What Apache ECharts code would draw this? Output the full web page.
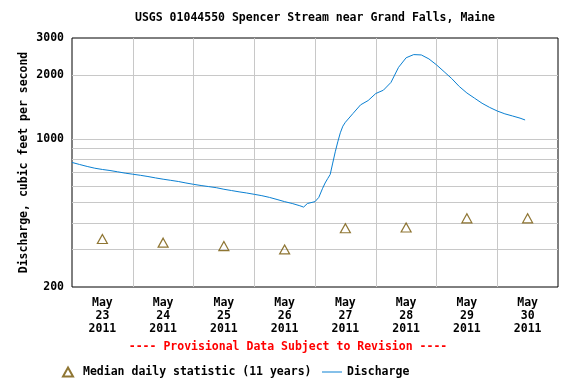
<!DOCTYPE html>
<html><head><meta charset="utf-8">
<script src="https://cdn.jsdelivr.net/npm/echarts@6/dist/echarts.min.js"></script>
<style>html,body{margin:0;padding:0;background:#fff}#c{width:576px;height:384px}</style>
</head><body><div id="c"></div>
<script>
const titleText = 'USGS 01044550 Spencer Stream near Grand Falls, Maine';
const yAxisTitle = 'Discharge, cubic feet per second';
const provisionalText = '---- Provisional Data Subject to Revision ----';
const medianName = 'Median daily statistic (11 years)';
const dischargeName = 'Discharge';

const dischargeTimes = [
 '2011-05-23 00:00','2011-05-23 03:00','2011-05-23 06:00','2011-05-23 09:00','2011-05-23 12:00','2011-05-23 15:00','2011-05-23 18:00','2011-05-23 21:00',
 '2011-05-24 00:00','2011-05-24 03:00','2011-05-24 06:00','2011-05-24 09:00','2011-05-24 12:00','2011-05-24 15:00','2011-05-24 18:00','2011-05-24 21:00',
 '2011-05-25 00:00','2011-05-25 03:00','2011-05-25 06:00','2011-05-25 09:00','2011-05-25 12:00','2011-05-25 15:00','2011-05-25 18:00','2011-05-25 21:00',
 '2011-05-26 00:00','2011-05-26 03:00','2011-05-26 06:00','2011-05-26 09:00','2011-05-26 12:00','2011-05-26 15:00','2011-05-26 18:00','2011-05-26 19:30','2011-05-26 21:00',
 '2011-05-27 00:00','2011-05-27 01:30','2011-05-27 03:00','2011-05-27 04:00','2011-05-27 05:00','2011-05-27 06:00','2011-05-27 07:00','2011-05-27 08:00','2011-05-27 09:00','2011-05-27 10:00','2011-05-27 11:00','2011-05-27 12:00','2011-05-27 15:00','2011-05-27 18:00','2011-05-27 21:00',
 '2011-05-28 00:00','2011-05-28 03:00','2011-05-28 06:00','2011-05-28 09:00','2011-05-28 12:00','2011-05-28 15:00','2011-05-28 18:00','2011-05-28 21:00',
 '2011-05-29 00:00','2011-05-29 03:00','2011-05-29 06:00','2011-05-29 09:00','2011-05-29 12:00','2011-05-29 15:00','2011-05-29 18:00','2011-05-29 21:00',
 '2011-05-30 00:00','2011-05-30 03:00','2011-05-30 06:00','2011-05-30 09:00','2011-05-30 11:00'
];
const dischargeValues = [
 775,758,742,728,718,710,700,690,
 682,674,665,655,646,638,630,620,
 611,603,596,589,579,571,563,556,
 548,540,530,518,506,496,484,477,496,
 506,530,585,620,650,680,770,870,970,1070,1150,1200,1320,1450,1520,
 1640,1700,1850,2180,2420,2505,2495,2390,
 2240,2080,1930,1770,1650,1560,1475,1410,
 1356,1315,1285,1255,1230
];
const medianTimes = ['2011-05-23 12:00','2011-05-24 12:00','2011-05-25 12:00','2011-05-26 12:00','2011-05-27 12:00','2011-05-28 12:00','2011-05-29 12:00','2011-05-30 12:00'];
const medianValues = [337,324,312,301,379,382,422,422];

const xStart = '2011-05-23 00:00';
const xEnd = '2011-05-31 00:00';
const labelTimes = medianTimes;
const dayLabels = ['May\n23\n2011','May\n24\n2011','May\n25\n2011','May\n26\n2011','May\n27\n2011','May\n28\n2011','May\n29\n2011','May\n30\n2011'];
const xGridTimes = ['2011-05-24 00:00','2011-05-25 00:00','2011-05-26 00:00','2011-05-27 00:00','2011-05-28 00:00','2011-05-29 00:00','2011-05-30 00:00'];
const yMin = 200, yMax = 3000;
const yGridValues = [300,400,500,600,700,800,900,1000,2000];
const yLabelValues = [200,1000,2000,3000];

function t(s){
  const [d, tm] = s.split(' ');
  const [Y, M, D] = d.split('-').map(Number);
  const [h, m] = tm.split(':').map(Number);
  return Date.UTC(Y, M - 1, D, h, m);
}
const FONT = "'DejaVu Sans Mono', monospace";
const labelTs = labelTimes.map(t);
const BLUE = '#0a80d2';
const BROWN = '#735400';
const legendText = {fontFamily: FONT, fontWeight: 'bold', fontSize: 11.5, color: '#000'};

const chart = echarts.init(document.getElementById('c'), null, {renderer: 'canvas'});
chart.setOption({
  animation: false,
  backgroundColor: '#fff',
  title: {
    text: titleText, left: 315, textAlign: 'center', top: 12, padding: 0,
    textStyle: {fontFamily: FONT, fontWeight: 'bold', fontSize: 11.5, color: '#000'}
  },
  grid: {left: 72, right: 18, top: 38, bottom: 97, show: true, borderColor: '#000', borderWidth: 1, backgroundColor: '#fff'},
  xAxis: {
    type: 'value', min: t(xStart), max: t(xEnd),
    axisLine: {show: false},
    axisTick: {show: false, customValues: xGridTimes.map(t)},
    splitLine: {show: true, lineStyle: {color: '#c8c8c8', width: 1}},
    axisLabel: {
      customValues: labelTs, margin: 10,
      fontFamily: FONT, fontWeight: 'bold', fontSize: 11.5, color: '#000', lineHeight: 13,
      formatter: v => { const i = labelTs.indexOf(v); return i >= 0 ? dayLabels[i] : ''; }
    }
  },
  yAxis: {
    type: 'log', logBase: 10, min: yMin, max: yMax,
    name: yAxisTitle, nameLocation: 'middle', nameRotate: 90, nameGap: 42, nameMoveOverlap: false,
    nameTextStyle: {fontFamily: FONT, fontWeight: 'bold', fontSize: 11.5, color: '#000'},
    axisLine: {show: false},
    axisTick: {show: false, customValues: yGridValues},
    splitLine: {show: true, lineStyle: {color: '#c8c8c8', width: 1}},
    axisLabel: {
      customValues: yLabelValues, margin: 8,
      fontFamily: FONT, fontWeight: 'bold', fontSize: 11.5, color: '#000',
      formatter: v => String(Math.round(v))
    }
  },
  legend: [
    {
      left: 62, top: 366, padding: 0, itemWidth: 20, itemHeight: 9,
      textStyle: legendText,
      data: [{name: medianName, icon: 'path://M5,0L10,9L0,9Z'}]
    },
    {
      left: 322, top: 366, padding: 0, itemWidth: 20, itemHeight: 1,
      textStyle: legendText,
      data: [{name: dischargeName, icon: 'rect'}]
    }
  ],
  graphic: [{
    type: 'text', left: 'center', top: 341,
    style: {text: provisionalText, fill: '#ff0000', font: "bold 11.5px 'DejaVu Sans Mono', monospace"}
  }],
  series: [
    {
      name: dischargeName, type: 'line', symbol: 'none', showSymbol: false,
      lineStyle: {color: BLUE, width: 1}, itemStyle: {color: BLUE},
      data: dischargeTimes.map((s, i) => [t(s), dischargeValues[i]])
    },
    {
      name: medianName, type: 'scatter', symbol: 'triangle', symbolSize: [10, 9],
      itemStyle: {color: 'rgba(0,0,0,0)', borderColor: BROWN, borderWidth: 1.2},
      data: medianTimes.map((s, i) => [t(s), medianValues[i]])
    }
  ]
});
</script></body></html>
